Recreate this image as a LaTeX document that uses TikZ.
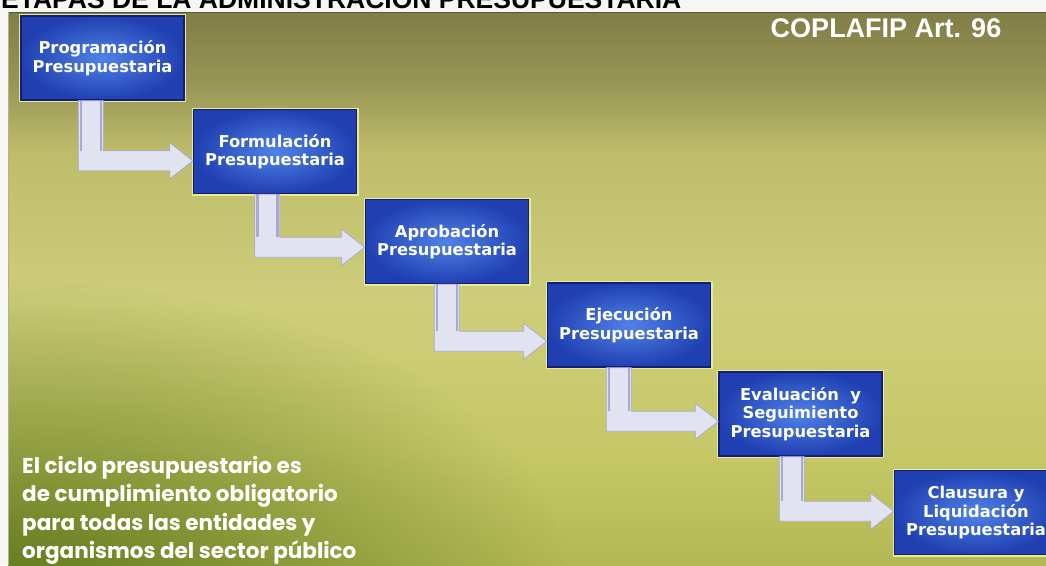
\documentclass[tikz,border=0pt]{standalone}
\usepackage{fontspec}
\setmainfont{DejaVu Sans}
\newfontfamily\titlefont{Liberation Sans}
\newfontfamily\notefont{Poppins}
\usetikzlibrary{calc,fadings}
\tikzfading[name=softglow, inner color=transparent!0, outer color=transparent!100]
\definecolor{paper}{RGB}{246,246,242}
\definecolor{bgtop}{RGB}{128,126,70}
\definecolor{bgA}{RGB}{150,148,85}
\definecolor{bgB}{RGB}{188,188,106}
\definecolor{bgC}{RGB}{206,206,122}
\definecolor{bgD}{RGB}{198,200,104}
\definecolor{bgbot}{RGB}{178,184,84}
\definecolor{darkgreen}{RGB}{92,118,26}
\definecolor{boxin}{RGB}{80,130,230}
\definecolor{boxout}{RGB}{32,64,178}
\definecolor{boxedge}{RGB}{18,30,120}
\definecolor{glow}{RGB}{235,235,150}
\definecolor{arrfill}{RGB}{226,227,240}
\definecolor{arredge}{RGB}{170,172,210}
\definecolor{arrstripe}{RGB}{128,134,192}
\tikzset{
  stage/.style={rectangle, minimum width=163pt, minimum height=84pt, inner sep=0pt,
    inner color=boxin, outer color=boxout, draw=boxedge, line width=1.4pt,
    preaction={draw=glow, line width=4pt},
    text=white, align=center, font=\bfseries\fontsize{16.3}{18.5}\selectfont},
  arrowbody/.style={fill=arrfill, draw=arredge, line width=0.8pt, line join=miter},
  stripe/.style={draw=arrstripe, line width=2.5pt, opacity=.6},
}
\newcommand\stagearrow[4]{%
  \coordinate (t) at ($(#2.north west)+(0,#4)$);
  \coordinate (v) at ($(#1.south west)+(#3,0)$);
  \coordinate (c) at ($(t)+(-23,-10)$);
  \filldraw[arrowbody] (v) -- ++(25,0) |- (c) -- ++(0,-8) -- (t) -- ++(-23,18) -- ++(0,-8) -| (v) -- cycle;
  \coordinate (vl) at ($(v)+(2.5,0)$);
  \coordinate (vr) at ($(v)+(22.5,0)$);
  \draw[stripe] (vl) -- (vl |- c);
  \draw[stripe] (vr) -- (vr |- c);
}
\begin{document}
\begin{tikzpicture}[x=1pt,y=-1pt]
\useasboundingbox (0,0) rectangle (1046,565);
\fill[paper] (0,0) rectangle (1046,565);
\begin{scope}
\clip (8,12) rectangle (1046,565);
\shade[top color=bgtop, bottom color=bgA] (8,12) rectangle (1046,80.5);
\shade[top color=bgA, bottom color=bgB] (8,80) rectangle (1046,150.5);
\shade[top color=bgB, bottom color=bgC] (8,150) rectangle (1046,300.5);
\shade[top color=bgC, bottom color=bgD] (8,300) rectangle (1046,450.5);
\shade[top color=bgD, bottom color=bgbot] (8,450) rectangle (1046,565);
\fill[darkgreen, path fading=softglow, fill opacity=.9] (8,580) ellipse [x radius=560, y radius=300];
\end{scope}
\draw[bgtop!70!black, line width=1.2pt] (8,12.5) -- (1046,12.5);
\draw[bgtop!60, line width=1pt] (8.5,12) -- (8.5,565);

\node[anchor=base west, font=\titlefont\bfseries\fontsize{26.5}{30}\selectfont, text=black, inner sep=0pt] (title) at (1,8) {ETAPAS DE LA ADMINISTRACIÓN PRESUPUESTARIA};
\fill[paper] (0,-30) rectangle (1046,-0.01);

\node[anchor=base, font=\titlefont\bfseries\fontsize{27}{30}\selectfont, text=white, inner sep=0pt] (ref) at (886,37) {COPLAFIP Art. 96};

\node[stage] (b1) at (102.5,58) {Programación\\Presupuestaria};
\node[stage] (b2) at (275,151.5) {Formulación\\Presupuestaria};
\node[stage] (b3) at (447,241.5) {Aprobación\\Presupuestaria};
\node[stage] (b4) at (629,325) {Ejecución\\Presupuestaria};
\node[stage] (b5) at (800.5,414) {Evaluación~~y\\Seguimiento\\Presupuestaria};
\node[stage] (b6) at (976,512.5) {Clausura y\\Liquidación\\Presupuestaria};

\stagearrow{b1}{b2}{58}{52}
\stagearrow{b2}{b3}{62}{48.5}
\stagearrow{b3}{b4}{69.5}{59}
\stagearrow{b4}{b5}{59.5}{50}
\stagearrow{b5}{b6}{61}{41.5}

\node[anchor=north west, align=left, text=white, inner sep=0pt,
  font=\notefont\bfseries\fontsize{21.5}{28.5}\selectfont] (note) at (22,456)
  {El ciclo presupuestario es\\de cumplimiento obligatorio\\para todas las entidades y\\organismos del sector público};
\end{tikzpicture}
\end{document}
